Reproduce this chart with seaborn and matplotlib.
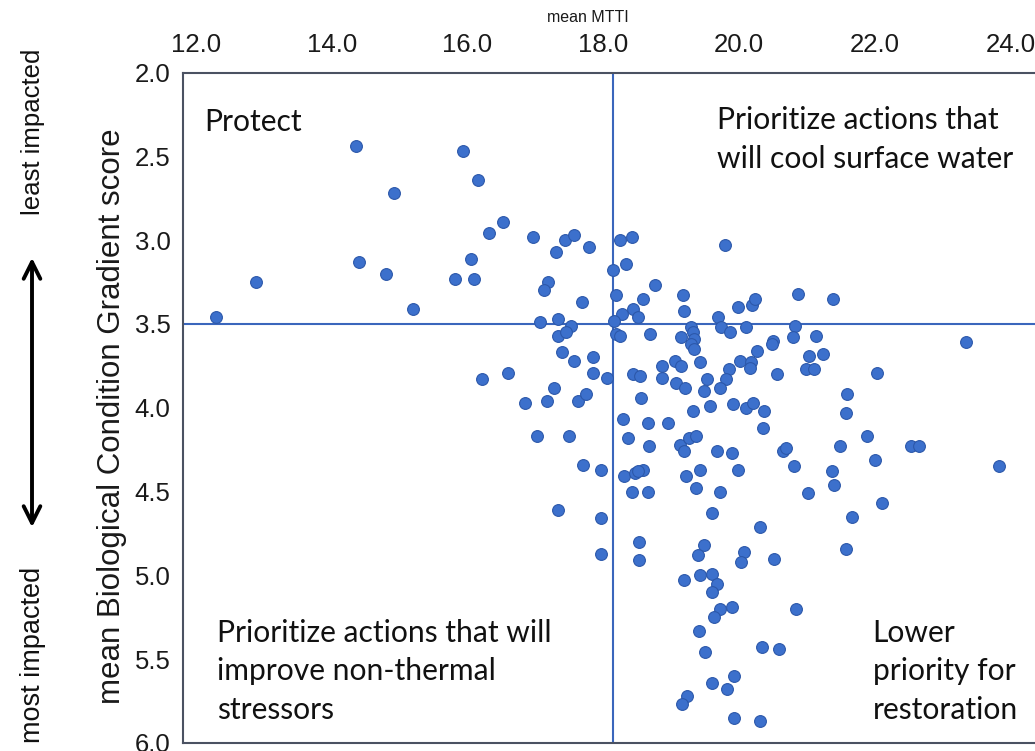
import matplotlib
matplotlib.use("Agg")
import matplotlib.pyplot as plt
import seaborn as sns
import pandas as pd

# ---- data ----
mean_mtti = [
    14.36, 15.93, 16.16, 14.92, 16.53, 16.32, 16.96, 17.43, 17.57, 17.79, 17.30, 14.40, 16.05, 14.80,
    15.81, 16.10, 12.89, 17.18, 17.13, 15.20, 17.68, 12.29, 17.07, 17.33, 17.53, 17.34, 17.45,
    18.24, 18.43, 18.33, 18.15, 18.76, 18.19, 18.59, 18.44, 18.28, 18.51, 18.16, 19.18, 19.19, 19.79,
    19.99, 20.19, 20.24, 20.87, 21.38, 19.69, 19.74, 19.87, 20.10, 20.82,
    19.30, 19.32, 19.33, 19.29, 19.33, 19.14, 18.69, 18.19, 18.24, 20.50, 20.48, 20.79, 21.14, 23.35,
    20.27, 21.03, 21.23, 18.86, 19.05, 19.15, 19.42, 20.01, 20.18, 20.16, 19.85, 20.99, 21.11, 20.56,
    22.04, 18.05, 18.44, 18.54, 18.87, 19.07, 19.21, 19.53, 19.81, 19.72, 19.48, 18.56, 21.59, 21.58,
    19.32, 19.58, 19.91, 20.11, 20.21, 20.37, 20.35, 18.29, 18.66, 18.95, 18.36, 18.67, 19.13, 19.19,
    19.27, 19.37, 19.67, 19.90, 20.65, 20.69, 21.49, 21.88, 22.53, 22.65, 22.00, 23.83, 17.97, 18.31,
    18.47, 18.58, 18.51, 19.22, 19.42, 19.99, 20.81, 21.37, 21.40, 18.43, 18.66, 19.37, 19.72, 21.02,
    22.11, 19.60, 21.67, 20.31, 17.97, 18.53, 18.53, 17.97, 19.49, 19.40, 20.07, 20.03, 20.52, 21.57,
    19.19, 19.43, 19.60,
    17.40, 17.57, 17.85, 17.85, 16.22, 16.60, 17.28, 16.85, 17.17, 17.63, 17.75, 17.02, 17.50, 17.70,
    17.33,
    19.67, 19.60, 19.72, 19.90, 19.63, 20.84, 19.41, 19.50, 20.34, 20.59, 19.93, 19.60, 19.82, 19.23,
    19.16, 19.93, 20.31,
]
mean_bcg = [
    2.44, 2.47, 2.64, 2.72, 2.89, 2.96, 2.98, 3.00, 2.97, 3.04, 3.07, 3.13, 3.11, 3.20,
    3.23, 3.23, 3.25, 3.25, 3.30, 3.41, 3.37, 3.46, 3.49, 3.47, 3.51, 3.57, 3.55,
    3.00, 2.98, 3.14, 3.18, 3.27, 3.33, 3.35, 3.41, 3.44, 3.46, 3.48, 3.33, 3.42, 3.03,
    3.40, 3.39, 3.35, 3.32, 3.35, 3.46, 3.52, 3.55, 3.52, 3.51,
    3.52, 3.55, 3.59, 3.62, 3.65, 3.58, 3.56, 3.56, 3.57, 3.60, 3.62, 3.58, 3.57, 3.61,
    3.66, 3.69, 3.68, 3.75, 3.72, 3.75, 3.73, 3.72, 3.73, 3.76, 3.77, 3.77, 3.77, 3.80,
    3.79, 3.82, 3.80, 3.81, 3.82, 3.85, 3.88, 3.83, 3.83, 3.88, 3.90, 3.94, 3.92, 4.03,
    4.02, 3.99, 3.98, 4.00, 3.97, 4.02, 4.12, 4.07, 4.09, 4.09, 4.18, 4.23, 4.22, 4.26,
    4.18, 4.17, 4.26, 4.27, 4.26, 4.24, 4.23, 4.17, 4.23, 4.23, 4.31, 4.35, 4.37, 4.41,
    4.39, 4.37, 4.38, 4.41, 4.37, 4.37, 4.35, 4.38, 4.46, 4.50, 4.50, 4.48, 4.50, 4.51,
    4.57, 4.63, 4.65, 4.71, 4.66, 4.80, 4.91, 4.87, 4.82, 4.88, 4.86, 4.92, 4.90, 4.84,
    5.03, 5.00, 4.99,
    3.67, 3.72, 3.70, 3.79, 3.83, 3.79, 3.88, 3.97, 3.96, 3.96, 3.92, 4.17, 4.17, 4.34,
    4.61,
    5.05, 5.10, 5.20, 5.19, 5.25, 5.20, 5.33, 5.46, 5.43, 5.44, 5.60, 5.64, 5.68, 5.72,
    5.77, 5.85, 5.87,
]
x_ticks = [12.0, 14.0, 16.0, 18.0, 20.0, 22.0, 24.0]
y_ticks = [2.0, 2.5, 3.0, 3.5, 4.0, 4.5, 5.0, 5.5, 6.0]
mtti_split = 18.14
bcg_split = 3.5
x_label = "mean MTTI"
y_label = "mean Biological Condition Gradient score"
quadrant_labels = {
    "top_left": ["Protect"],
    "top_right": ["Prioritize actions that", "will cool surface water"],
    "bottom_left": ["Prioritize actions that will", "improve non-thermal", "stressors"],
    "bottom_right": ["Lower", "priority for", "restoration"],
}

# ---- styling ----
sns.set_theme(style="white")
plt.rcParams["font.family"] = ["Liberation Sans", "DejaVu Sans"]

W, H = 1035, 751
fig = plt.figure(figsize=(W / 100, H / 100), dpi=100)
ax = fig.add_axes([183 / W, 8 / H, 852 / W, 670.5 / H])

df = pd.DataFrame({"mtti": mean_mtti, "bcg": mean_bcg})
sns.scatterplot(data=df, x="mtti", y="bcg", ax=ax, s=72, color="#3C70CC",
                edgecolor="#2C58AA", linewidth=0.8, zorder=3)

line_color = "#3A66BC"
ax.axvline(mtti_split, color=line_color, lw=1.5, zorder=2)
ax.axhline(bcg_split, color=line_color, lw=1.5, zorder=2)

ax.set_xlim(11.81, 24.36)
ax.set_ylim(6.0, 2.0)

ax.xaxis.tick_top()
ax.set_xticks(x_ticks)
ax.set_xticklabels([f"{t:.1f}" for t in x_ticks])
ax.set_yticks(y_ticks)
ax.set_yticklabels([f"{t:.1f}" for t in y_ticks])
ax.tick_params(axis="x", length=0, pad=11, labelsize=18.5, labelcolor="#1a1a1a")
ax.tick_params(axis="y", length=0, pad=9, labelsize=18.5, labelcolor="#1a1a1a")

for side in ["top", "left", "bottom"]:
    ax.spines[side].set_color("#4B5262")
    ax.spines[side].set_linewidth(1.5)
ax.spines["right"].set_visible(False)

ax.set_xlabel(x_label, fontsize=11.5, color="#1a1a1a")
ax.xaxis.set_label_position("top")
ax.xaxis.set_label_coords((588 - 183) / 852, 1 + (72.5 - 18) / 670.5)
ax.xaxis.label.set_verticalalignment("center")

ax.set_ylabel(y_label, fontsize=22.5, color="#1a1a1a")
ax.yaxis.set_label_coords((112 - 183) / 852, 1 - (416 - 72.5) / 670.5)
ax.yaxis.label.set_verticalalignment("center")

# outer gradient annotation
fig.text(33 / W, 1 - 132 / H, "least impacted", rotation=90, ha="center", va="center",
         fontsize=18.5, color="#111111")
fig.text(33 / W, 1 - 655 / H, "most impacted", rotation=90, ha="center", va="center",
         fontsize=19.5, color="#111111")
ax.annotate("", xy=(32 / W, 1 - 530 / H), xytext=(32 / W, 1 - 255 / H),
            xycoords="figure fraction", textcoords="figure fraction",
            arrowprops=dict(arrowstyle="<->", lw=2.8, color="black", mutation_scale=30),
            annotation_clip=False)

# quadrant texts (placed in data coordinates)
qfont = dict(family=["Lato", "DejaVu Sans"], fontsize=21.6, color="#111111", va="baseline", ha="left")
ax.text(12.12, 2.35, quadrant_labels["top_left"][0], **qfont)
for i, line in enumerate(quadrant_labels["top_right"]):
    ax.text(19.67, 2.34 + i * 0.232, line, **qfont)
for i, line in enumerate(quadrant_labels["bottom_left"]):
    ax.text(12.31, 5.395 + i * 0.232, line, **qfont)
for i, line in enumerate(quadrant_labels["bottom_right"]):
    ax.text(21.97, 5.395 + i * 0.232, line, **qfont)

fig.savefig("out.png", dpi=100)
